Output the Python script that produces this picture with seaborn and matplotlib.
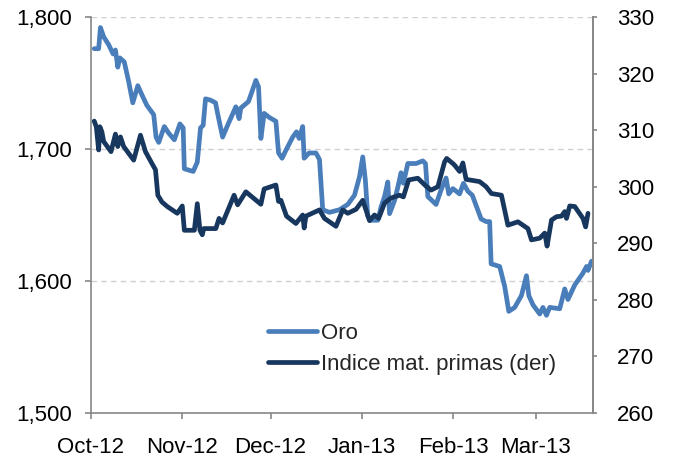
import numpy as np
import pandas as pd
import matplotlib
matplotlib.use("Agg")
import matplotlib.pyplot as plt
import matplotlib.dates as mdates
import seaborn as sns

start_date = "2012-10-01"

# Oro (left axis): day offsets from start_date and values
oro_day = [1.1, 2.6, 3.2, 4.3, 6.0, 7.5, 8.3, 9.1, 9.8, 11.3, 12.8, 14.2, 15.9, 17.3, 19.0,
           21.3, 22.1, 23.0, 24.9, 26.4, 28.3, 30.2, 31.3, 31.7, 34.7, 36.1, 37.2, 38.1, 38.9,
           40.6, 42.3, 42.9, 44.7, 46.4, 49.2, 50.3, 50.9, 53.5, 56.0, 56.9, 57.7, 58.8, 60.5,
           62.8, 63.7, 64.9, 66.2, 68.5, 69.8, 70.7, 71.9, 72.4, 74.1, 76.4, 77.6, 78.7, 81.0,
           84.4, 87.2, 89.5, 91.2, 92.3, 93.2, 94.0, 95.1, 97.4, 98.5, 99.7, 100.8, 101.4,
           103.1, 104.2, 105.3, 106.1, 107.6, 110.4, 112.7, 113.6, 114.4, 117.2, 118.9, 120.6,
           121.5, 122.9, 125.2, 126.5, 128.0, 129.5, 132.5, 134.2, 135.4, 135.9, 138.8, 140.5,
           141.9, 143.9, 146.2, 147.9, 148.7, 150.1, 152.4, 153.5, 154.7, 155.8, 159.2, 160.9,
           162.0, 164.3, 167.1, 168.3, 168.8, 170.0]
oro_val = [1776, 1776, 1792, 1785, 1779, 1772, 1775, 1762, 1769, 1766, 1751, 1735, 1748, 1741, 1733,
           1726, 1709, 1705, 1717, 1712, 1707, 1719, 1716, 1685, 1683, 1690, 1716, 1718, 1738,
           1737, 1735, 1728, 1709, 1718, 1732, 1723, 1731, 1736, 1752, 1747, 1708, 1727, 1724,
           1721, 1697, 1693, 1699, 1709, 1713, 1708, 1717, 1693, 1697, 1697, 1692, 1654, 1652,
           1654, 1658, 1665, 1679, 1694, 1676, 1649, 1646, 1646, 1656, 1664, 1675, 1651,
           1661, 1671, 1682, 1674, 1689, 1689, 1691, 1689, 1664, 1658, 1669, 1678,
           1666, 1670, 1666, 1674, 1668, 1665, 1647, 1645, 1645, 1613, 1611, 1596,
           1577, 1580, 1589, 1604, 1589, 1582, 1575, 1580, 1574, 1580, 1579, 1594,
           1586, 1597, 1606, 1611, 1608, 1615]

# Indice mat. primas (right axis)
idx_day = [1.1, 1.8, 2.6, 3.0, 3.7, 4.3, 6.8, 8.3, 9.1, 10.0, 11.1, 14.5, 16.8, 18.5, 20.7, 21.9,
           22.7, 24.1, 25.9, 29.3, 31.0, 31.7, 35.1, 36.1, 37.0, 37.8, 38.3, 42.4, 43.5, 44.7,
           48.6, 49.8, 52.6, 57.7, 58.8, 62.8, 63.7, 64.5, 66.4, 69.6, 71.9, 72.4, 73.0, 77.6,
           79.3, 83.2, 85.5, 87.2, 90.0, 92.3, 94.6, 96.3, 97.7, 99.7, 101.9, 104.8, 106.1,
           107.9, 111.0, 113.8, 115.5, 117.8, 120.1, 120.8, 122.9, 123.5, 125.2, 126.3, 127.4,
           132.0, 134.2, 136.0, 139.4, 141.6, 145.0, 148.4, 149.6, 152.4, 154.1, 154.9, 156.4,
           158.1, 159.8, 160.9, 161.5, 162.6, 164.3, 167.1, 168.0, 168.8]
idx_val = [311.6, 310.6, 306.5, 310.6, 309.7, 308.0, 306.2, 309.3, 307.1, 308.8, 307.1, 304.7, 309.1,
           306.2, 304.1, 303.0, 298.5, 297.3, 296.5, 295.3, 296.6, 292.3, 292.3, 297.0, 292.3, 291.5,
           292.6, 292.6, 294.4, 293.6, 298.5, 296.8, 299.1, 296.9, 299.6, 300.3, 297.4, 297.6,
           294.8, 293.5, 295.0, 292.7, 294.8, 295.9, 294.4, 293.0, 295.9, 295.3, 296.0, 297.6,
           294.0, 295.0, 294.4, 297.1, 298.0, 298.5, 298.2, 301.2, 301.5, 300.1, 299.4, 300.0,
           304.4, 305.0, 304.1, 303.8, 302.7, 304.2, 301.3, 300.9, 300.0, 298.8, 298.5, 293.2,
           293.8, 292.6, 290.6, 290.9, 291.8, 289.5, 294.1, 294.7, 294.8, 295.6, 294.4, 296.6,
           296.5, 294.4, 292.9, 295.3]

left_ticks = [1500, 1600, 1700, 1800]
right_ticks = [260, 270, 280, 290, 300, 310, 320, 330]
month_ticks = ["2012-10-01", "2012-11-01", "2012-12-01", "2013-01-01", "2013-02-01", "2013-03-01"]
labels = ["Oro", "Indice mat. primas (der)"]

t0 = pd.Timestamp(start_date)
df_oro = pd.DataFrame({"fecha": t0 + pd.to_timedelta(oro_day, unit="D"), "valor": oro_val})
df_idx = pd.DataFrame({"fecha": t0 + pd.to_timedelta(idx_day, unit="D"), "valor": idx_val})

sns.set_theme(style="white")
plt.rcParams["font.family"] = ["Liberation Sans", "DejaVu Sans"]

c_oro = "#4A7EBB"
c_idx = "#17375E"
grey = "#868686"
fs = 16

fig = plt.figure(figsize=(6.73, 4.61), dpi=100)
ax = fig.add_axes([91 / 673, 1 - 413 / 461, (593 - 91) / 673, (413 - 17) / 461])
ax2 = ax.twinx()

sns.lineplot(data=df_oro, x="fecha", y="valor", ax=ax, color=c_oro, lw=3.4, label=labels[0], legend=False)
sns.lineplot(data=df_idx, x="fecha", y="valor", ax=ax2, color=c_idx, lw=3.4, label=labels[1], legend=False)

ax.set_xlim(t0, t0 + pd.Timedelta(days=170.5))
ax.set_ylim(1500, 1800)
ax2.set_ylim(260, 330)
ax.set_yticks(left_ticks)
ax.set_yticklabels([f"{v:,}" for v in left_ticks])
ax2.set_yticks(right_ticks)
ax.set_xticks(pd.to_datetime(month_ticks))
ax.xaxis.set_major_formatter(mdates.DateFormatter("%b-%y"))
ax.set_xlabel("")
ax.set_ylabel("")
ax2.set_ylabel("")

for g in [1600, 1700, 1800]:
    ax.axhline(g, color="#D0D0D0", lw=1, ls=(0, (4, 3)), zorder=0)

for a in (ax, ax2):
    for s in a.spines.values():
        s.set_color(grey)
        s.set_linewidth(1.2)
    a.spines["top"].set_visible(False)
    a.tick_params(axis="both", which="major", direction="out", length=4.5, width=1.2,
                  color=grey, labelsize=fs, labelcolor="black")
ax2.spines["left"].set_visible(False)
ax2.spines["bottom"].set_visible(False)
ax.tick_params(axis="y", left=True, pad=9)
ax.tick_params(axis="x", bottom=True, pad=13)
ax2.tick_params(axis="y", right=True, length=3, pad=14)
ax.grid(False)
ax2.grid(False)

h1, l1 = ax.get_legend_handles_labels()
h2, l2 = ax2.get_legend_handles_labels()
leg = ax2.legend(h1 + h2, l1 + l2, loc="upper left", bbox_to_anchor=(0.3526, 0.228),
                 frameon=False, fontsize=fs, handlelength=2.2, handletextpad=0.2,
                 borderpad=0, borderaxespad=0, labelspacing=0.47)

fig.savefig("out.png", dpi=100)
